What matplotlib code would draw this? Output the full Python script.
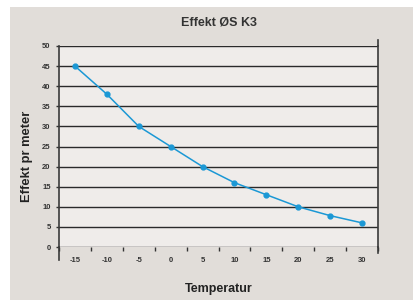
import matplotlib
matplotlib.use('Agg')
import matplotlib.pyplot as plt
from matplotlib.patches import Rectangle

plt.rcParams['font.family'] = ['Liberation Sans', 'DejaVu Sans']

# Data
temperatures = ['-15', '-10', '-5', '0', '5', '10', '15', '20', '25', '30']
effekt = [45, 38, 30, 25, 20, 16, 13, 10, 7.8, 6]

fig = plt.figure(figsize=(4.13, 3.0), dpi=100)
fig.patch.set_facecolor('white')
fig.patches.append(Rectangle((10 / 413, 0), 1, 1 - 7 / 300, transform=fig.transFigure,
                             facecolor='#e1ddd9', edgecolor='none', zorder=-5))

ax = fig.add_axes([59 / 413, 1 - 247 / 300, (378 - 59) / 413, (247 - 46) / 300])
ax.set_zorder(2)
ax.set_facecolor('#efecea')

x = list(range(len(temperatures)))
ax.plot(x, effekt, color='#1b98d5', linewidth=1.1, marker='o', markersize=3.5, zorder=3)

ax.set_xlim(-0.5, len(temperatures) - 0.5)
ax.set_ylim(0, 50)
ax.set_yticks(range(0, 51, 5))
ax.set_yticklabels([str(v) for v in range(0, 51, 5)], fontsize=5.5, fontweight='bold', color='#333333')
ax.set_xticks(x)
ax.set_xticklabels(temperatures, fontsize=5.5, fontweight='bold', color='#333333')
ax.set_xticks([i - 0.5 for i in range(len(temperatures) + 1)], minor=True)
ax.tick_params(axis='x', which='major', length=0, pad=7)
ax.tick_params(axis='x', which='minor', length=3, direction='out', color='#333333', width=1)
ax.tick_params(axis='y', length=2, width=1, color='#333333', pad=4)

ax.yaxis.grid(True, color='#2a2a2a', linewidth=1)
ax.set_axisbelow(True)
for side in ['top', 'bottom']:
    ax.spines[side].set_visible(False)
for side in ['left', 'right']:
    ax.spines[side].set_color('#3a3a3a')
    ax.spines[side].set_linewidth(1.2)

# extended axis lines below the plot area
ax.plot([0, 0], [0, -0.065], transform=ax.transAxes, color='#3a3a3a', linewidth=1.2, clip_on=False)
ax.plot([1, 1], [0, -0.03], transform=ax.transAxes, color='#3a3a3a', linewidth=1.2, clip_on=False)
ax.plot([1, 1], [1, 1.03], transform=ax.transAxes, color='#3a3a3a', linewidth=1.2, clip_on=False)

fig.text(219 / 413, 1 - 22 / 300, 'Effekt ØS K3', ha='center', va='center',
         fontsize=9, fontweight='bold', color='#333333')
fig.text(219 / 413, 1 - 289 / 300, 'Temperatur', ha='center', va='center',
         fontsize=9, fontweight='bold', color='#222222')
fig.text(27 / 413, 1 - 156 / 300, 'Effekt pr meter', ha='center', va='center', rotation=90,
         fontsize=9.3, fontweight='bold', color='#222222')

fig.savefig('out.png', dpi=100)
